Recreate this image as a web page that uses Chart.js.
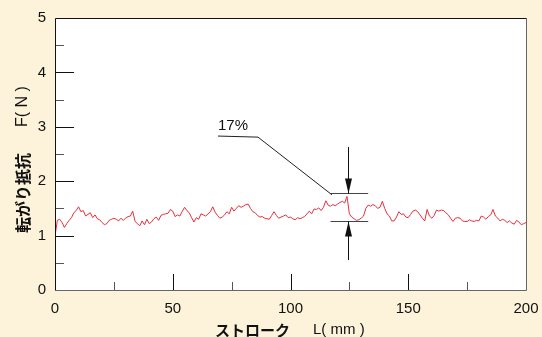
<!DOCTYPE html>
<html>
<head>
<meta charset="utf-8">
<script src="https://cdn.jsdelivr.net/npm/chart.js@4.4.1/dist/chart.umd.min.js"></script>
<style>
  html, body { margin: 0; padding: 0; background: #fdf3da; }
  #wrap { position: relative; width: 542px; height: 337px; }
</style>
</head>
<body>
<div id="wrap"><canvas id="frictionChart" width="542" height="337"></canvas></div>
<script>
// rolling resistance F (N), read every 1 mm of stroke, after the start-up rise
const startStroke = [0, 0.2];
const startForce = [0, 1.05];
const forceN = [
  1.28, 1.30, 1.24, 1.15, 1.22, 1.28, 1.33, 1.42, 1.46, 1.53,
  1.44, 1.46, 1.36, 1.39, 1.42, 1.33, 1.38, 1.31, 1.29, 1.24,
  1.20, 1.22, 1.28, 1.30, 1.32, 1.30, 1.27, 1.32, 1.28, 1.32,
  1.35, 1.36, 1.45, 1.26, 1.22, 1.18, 1.27, 1.20, 1.30, 1.22,
  1.25, 1.31, 1.34, 1.28, 1.37, 1.39, 1.40, 1.41, 1.48, 1.45,
  1.35, 1.38, 1.36, 1.44, 1.52, 1.46, 1.42, 1.33, 1.25, 1.33,
  1.30, 1.40, 1.38, 1.36, 1.40, 1.44, 1.53, 1.43, 1.37, 1.32,
  1.34, 1.38, 1.44, 1.40, 1.52, 1.45, 1.50, 1.55, 1.52, 1.54,
  1.57, 1.58, 1.50, 1.44, 1.42, 1.37, 1.34, 1.35, 1.32, 1.31,
  1.30, 1.37, 1.44, 1.37, 1.32, 1.34, 1.36, 1.38, 1.33, 1.34,
  1.31, 1.29, 1.33, 1.31, 1.33, 1.35, 1.40, 1.45, 1.40, 1.49,
  1.48, 1.51, 1.46, 1.52, 1.64, 1.56, 1.54, 1.57, 1.55, 1.58,
  1.61, 1.63, 1.60, 1.72, 1.40, 1.34, 1.31, 1.28, 1.29, 1.32,
  1.36, 1.50, 1.56, 1.54, 1.57, 1.55, 1.50, 1.52, 1.63, 1.50,
  1.40, 1.36, 1.27, 1.27, 1.34, 1.44, 1.39, 1.40, 1.34, 1.33,
  1.39, 1.45, 1.47, 1.44, 1.38, 1.32, 1.27, 1.48, 1.36, 1.32,
  1.37, 1.47, 1.45, 1.47, 1.46, 1.42, 1.38, 1.32, 1.26, 1.32,
  1.33, 1.32, 1.27, 1.26, 1.26, 1.29, 1.27, 1.26, 1.28, 1.27,
  1.36, 1.34, 1.30, 1.35, 1.38, 1.48, 1.36, 1.32, 1.27, 1.30,
  1.28, 1.24, 1.27, 1.23, 1.21, 1.28, 1.25, 1.20, 1.22, 1.24
];
const STEP_MM = 1;

const xTickLabels = [0, 50, 100, 150, 200];
const yTickLabels = [0, 1, 2, 3, 4, 5];
const xMinorTicks = [25, 75, 125, 175];
const yMinorTicks = [0.5, 1.5, 2.5, 3.5, 4.5];

// 17% band marker (data units)
const bandX = 124.5;
const bandHigh = 1.78;
const bandLow = 1.27;
const bandSpan = [117, 133];
const arrowEnds = [2.63, 0.55];
const leader = [[69.2, 2.83], [86.2, 2.81], [117.6, 1.75]];
const bandLabel = '17%';

const points = startStroke.map((x, i) => ({ x: x, y: startForce[i] }))
  .concat(forceN.map((v, i) => ({ x: (i + 1) * STEP_MM, y: v })));

const NUM_FONT = '"Liberation Sans", Arial, sans-serif';
const JP_FONT = '"Noto Sans CJK JP", sans-serif';

const framePlugin = {
  id: 'frame',
  beforeDraw(chart) {
    const { ctx, chartArea: a } = chart;
    ctx.save();
    ctx.fillStyle = '#ffffff';
    ctx.fillRect(a.left, a.top, a.right - a.left, a.bottom - a.top);
    ctx.restore();
  },
  afterDraw(chart) {
    const { ctx, chartArea: a, scales } = chart;
    const xs = scales.x, ys = scales.y;
    ctx.save();
    ctx.lineWidth = 1;

    // inward ticks
    yTickLabels.slice(1, -1).forEach(v => {
      const y = Math.round(ys.getPixelForValue(v)) + 0.5;
      ctx.strokeStyle = '#111';
      ctx.beginPath(); ctx.moveTo(a.left, y); ctx.lineTo(a.left + 19, y); ctx.stroke();
    });
    yMinorTicks.forEach(v => {
      const y = Math.round(ys.getPixelForValue(v)) + 0.5;
      ctx.strokeStyle = '#555';
      ctx.beginPath(); ctx.moveTo(a.left, y); ctx.lineTo(a.left + 9, y); ctx.stroke();
    });
    xTickLabels.slice(1, -1).forEach(v => {
      const x = Math.round(xs.getPixelForValue(v)) + 0.5;
      ctx.strokeStyle = '#111';
      ctx.beginPath(); ctx.moveTo(x, a.bottom); ctx.lineTo(x, a.bottom - 16); ctx.stroke();
    });
    xMinorTicks.forEach(v => {
      const x = Math.round(xs.getPixelForValue(v)) + 0.5;
      ctx.strokeStyle = '#555';
      ctx.beginPath(); ctx.moveTo(x, a.bottom); ctx.lineTo(x, a.bottom - 8); ctx.stroke();
    });

    // frame
    const L = Math.round(a.left) + 0.5, R = Math.round(a.right) + 0.5;
    const T = Math.round(a.top) + 0.5, B = Math.round(a.bottom) + 0.5;
    ctx.strokeStyle = '#666';
    ctx.beginPath(); ctx.moveTo(L, B); ctx.lineTo(R, B); ctx.lineTo(R, T); ctx.stroke();
    ctx.strokeStyle = '#111';
    ctx.beginPath(); ctx.moveTo(L, B); ctx.lineTo(L, T); ctx.lineTo(R, T); ctx.stroke();

    // band marker
    const bx = Math.round(xs.getPixelForValue(bandX)) + 0.5;
    const yHi = Math.round(ys.getPixelForValue(bandHigh)) + 0.5;
    const yLo = Math.round(ys.getPixelForValue(bandLow)) + 0.5;
    const x0 = xs.getPixelForValue(bandSpan[0]), x1 = xs.getPixelForValue(bandSpan[1]);
    ctx.strokeStyle = '#444';
    ctx.beginPath();
    ctx.moveTo(x0, yHi); ctx.lineTo(x1, yHi);
    ctx.moveTo(x0, yLo); ctx.lineTo(x1, yLo);
    ctx.stroke();
    ctx.strokeStyle = '#111';
    ctx.beginPath();
    ctx.moveTo(bx, ys.getPixelForValue(arrowEnds[0])); ctx.lineTo(bx, yHi);
    ctx.moveTo(bx, yLo); ctx.lineTo(bx, ys.getPixelForValue(arrowEnds[1]));
    ctx.stroke();
    ctx.fillStyle = '#111';
    ctx.beginPath();
    ctx.moveTo(bx, yHi); ctx.lineTo(bx - 3.5, yHi - 15); ctx.lineTo(bx + 3.5, yHi - 15); ctx.closePath();
    ctx.moveTo(bx, yLo); ctx.lineTo(bx - 3.5, yLo + 15); ctx.lineTo(bx + 3.5, yLo + 15); ctx.closePath();
    ctx.fill();

    // leader line and label
    ctx.strokeStyle = '#222';
    ctx.beginPath();
    leader.forEach((p, i) => {
      const px = xs.getPixelForValue(p[0]), py = ys.getPixelForValue(p[1]);
      if (i === 0) ctx.moveTo(px, py); else ctx.lineTo(px, py);
    });
    ctx.stroke();
    ctx.fillStyle = '#111';
    ctx.font = '15px ' + NUM_FONT;
    ctx.textAlign = 'left';
    ctx.textBaseline = 'alphabetic';
    ctx.fillText(bandLabel, xs.getPixelForValue(leader[0][0]), ys.getPixelForValue(leader[0][1]) - 6);

    // axis titles
    ctx.fillStyle = '#111';
    ctx.textBaseline = 'middle';
    ctx.save();
    ctx.translate(23, 233);
    ctx.rotate(-Math.PI / 2);
    ctx.font = 'bold 16px ' + JP_FONT;
    ctx.fillText('転がり抵抗', 0, 0);
    ctx.font = '16px ' + NUM_FONT;
    ctx.fillText('F( N )', 106, 0);
    ctx.restore();

    ctx.font = 'bold 15px ' + JP_FONT;
    ctx.fillText('ストローク', 215, 330);
    ctx.font = '15px ' + NUM_FONT;
    ctx.fillText('L( mm )', 313, 330);
    ctx.restore();
  }
};

new Chart(document.getElementById('frictionChart'), {
  type: 'line',
  data: {
    datasets: [{
      data: points,
      borderColor: '#e8303c',
      borderWidth: 1,
      pointRadius: 0,
      tension: 0,
      fill: false
    }]
  },
  options: {
    responsive: false,
    animation: false,
    events: [],
    layout: { padding: { left: 0, right: 16, top: 18, bottom: 0 } },
    plugins: { legend: { display: false }, tooltip: { enabled: false } },
    scales: {
      x: {
        type: 'linear',
        min: 0,
        max: 200,
        afterBuildTicks: s => { s.ticks = xTickLabels.map(v => ({ value: v })); },
        afterFit: s => { s.height = 47; s.paddingLeft = 0; s.paddingRight = 0; },
        grid: { display: false, drawTicks: false },
        border: { display: false },
        ticks: { color: '#111', font: { family: NUM_FONT, size: 15 }, padding: 10, maxRotation: 0 }
      },
      y: {
        min: 0,
        max: 5,
        afterBuildTicks: s => { s.ticks = yTickLabels.map(v => ({ value: v })); },
        afterFit: s => { s.width = 55; s.paddingTop = 0; s.paddingBottom = 0; },
        grid: { display: false, drawTicks: false },
        border: { display: false },
        ticks: { color: '#111', font: { family: NUM_FONT, size: 15 }, padding: 9 }
      }
    }
  },
  plugins: [framePlugin]
});
</script>
</body>
</html>
